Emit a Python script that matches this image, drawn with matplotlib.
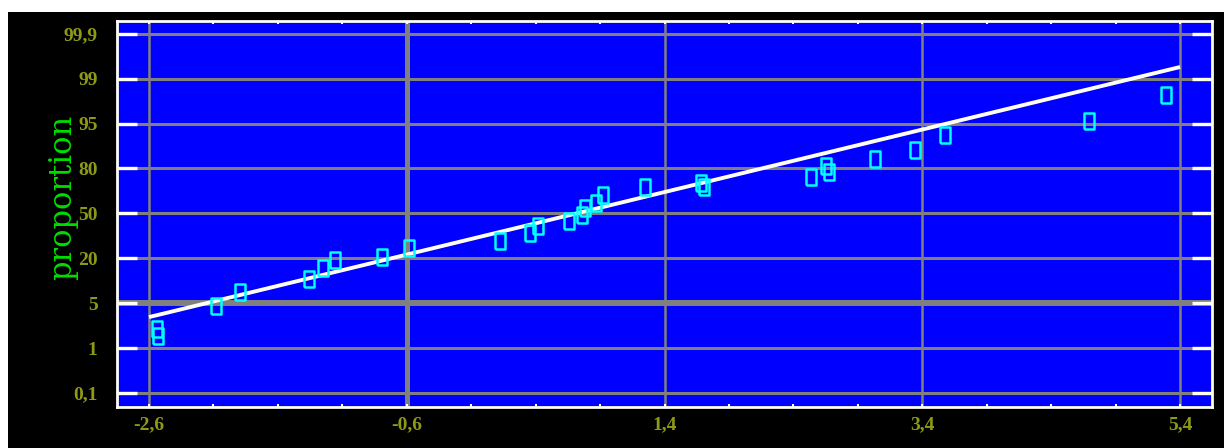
import numpy as np
import matplotlib
matplotlib.use('Agg')
import matplotlib.pyplot as plt
from matplotlib.patches import Rectangle

# probability scale labels (evenly spaced rows on the chart)
prop_labels = ['0,1', '1', '5', '20', '50', '80', '95', '99', '99,9']
x_ticks = [-2.6, -0.6, 1.4, 3.4, 5.4]
x_labels = ['-2,6', '-0,6', '1,4', '3,4', '5,4']

# observed points, y given in rows of the probability scale
obs_x = [-2.54, -2.53, -2.08, -1.89, -1.36, -1.25, -1.16, -0.79, -0.58,
         0.12, 0.36, 0.42, 0.66, 0.76, 0.78, 0.87, 0.92, 1.25, 1.68, 1.71,
         2.54, 2.65, 2.68, 3.03, 3.34, 3.58, 4.69, 5.29]
obs_y = [1.43, 1.27, 1.94, 2.25, 2.54, 2.78, 2.96, 3.03, 3.23,
         3.39, 3.56, 3.72, 3.83, 3.96, 4.12, 4.23, 4.41, 4.59, 4.68, 4.59,
         4.81, 5.06, 4.92, 5.21, 5.41, 5.75, 6.06, 6.64]

# fitted line end points
fit_x = [-2.6, 5.4]
fit_y = [1.69, 7.26]

fig = plt.figure(figsize=(12.24, 4.48), dpi=100, facecolor='white')
fig.patches.append(Rectangle((8 / 1224, 0), 1, 1 - 12 / 448, transform=fig.transFigure,
                             facecolor='black', edgecolor='none', zorder=-10))

ax = fig.add_axes([117 / 1224, 41 / 448, (1212 - 117) / 1224, (407 - 21) / 448])
ax.set_facecolor('#0000ff')

grid_col = '#808080'
for yy in range(len(prop_labels)):
    ax.axhline(yy, color=grid_col, lw=2.2, zorder=1)
for xx in x_ticks:
    ax.axvline(xx, color=grid_col, lw=1.8, zorder=1)
# heavier reference lines
ax.axhline(2, color=grid_col, lw=4.3, zorder=1)
ax.axvline(-0.6, color=grid_col, lw=3.6, zorder=1)

ax.plot(fit_x, fit_y, color='#fffff4', lw=2.8, solid_capstyle='butt', zorder=3)

box = [(-0.65, -1), (0.65, -1), (0.65, 1), (-0.65, 1), (-0.65, -1)]
ax.plot(obs_x, obs_y, linestyle='none', marker=box, markersize=12,
        markerfacecolor='none', markeredgecolor='#00ffff', markeredgewidth=1.8,
        zorder=4)

ax.set_xlim(-2.848, 5.648)
ax.set_ylim(-0.312, 8.285)

ax.set_yticks(range(len(prop_labels)))
ax.set_yticklabels(prop_labels)
ax.set_xticks(x_ticks)
ax.set_xticklabels(x_labels)
ax.set_xticks(np.arange(-2.6, 5.5, 0.5), minor=True)

lab_col = '#8e9a16'
ax.tick_params(axis='y', direction='in', length=14.5, width=2.4, color='#fffff0',
               left=True, right=True, labelsize=14, labelcolor=lab_col, pad=14)
ax.tick_params(axis='x', which='both', direction='in', length=2.5, width=1.5,
               color='#fffff0', top=True, bottom=True, labelsize=14,
               labelcolor=lab_col, pad=7)
for t in ax.get_xticklabels() + ax.get_yticklabels():
    t.set_fontfamily('Liberation Serif')
    t.set_fontweight('bold')

for s in ax.spines.values():
    s.set_color('#fffff0')
    s.set_linewidth(2)

fig.text(63 / 1224, 1 - 197 / 448, 'proportion', rotation=90, color='#00dd00',
         fontsize=22, family='DejaVu Serif', ha='center', va='center')

fig.savefig('out.png', dpi=100, facecolor=fig.get_facecolor())
